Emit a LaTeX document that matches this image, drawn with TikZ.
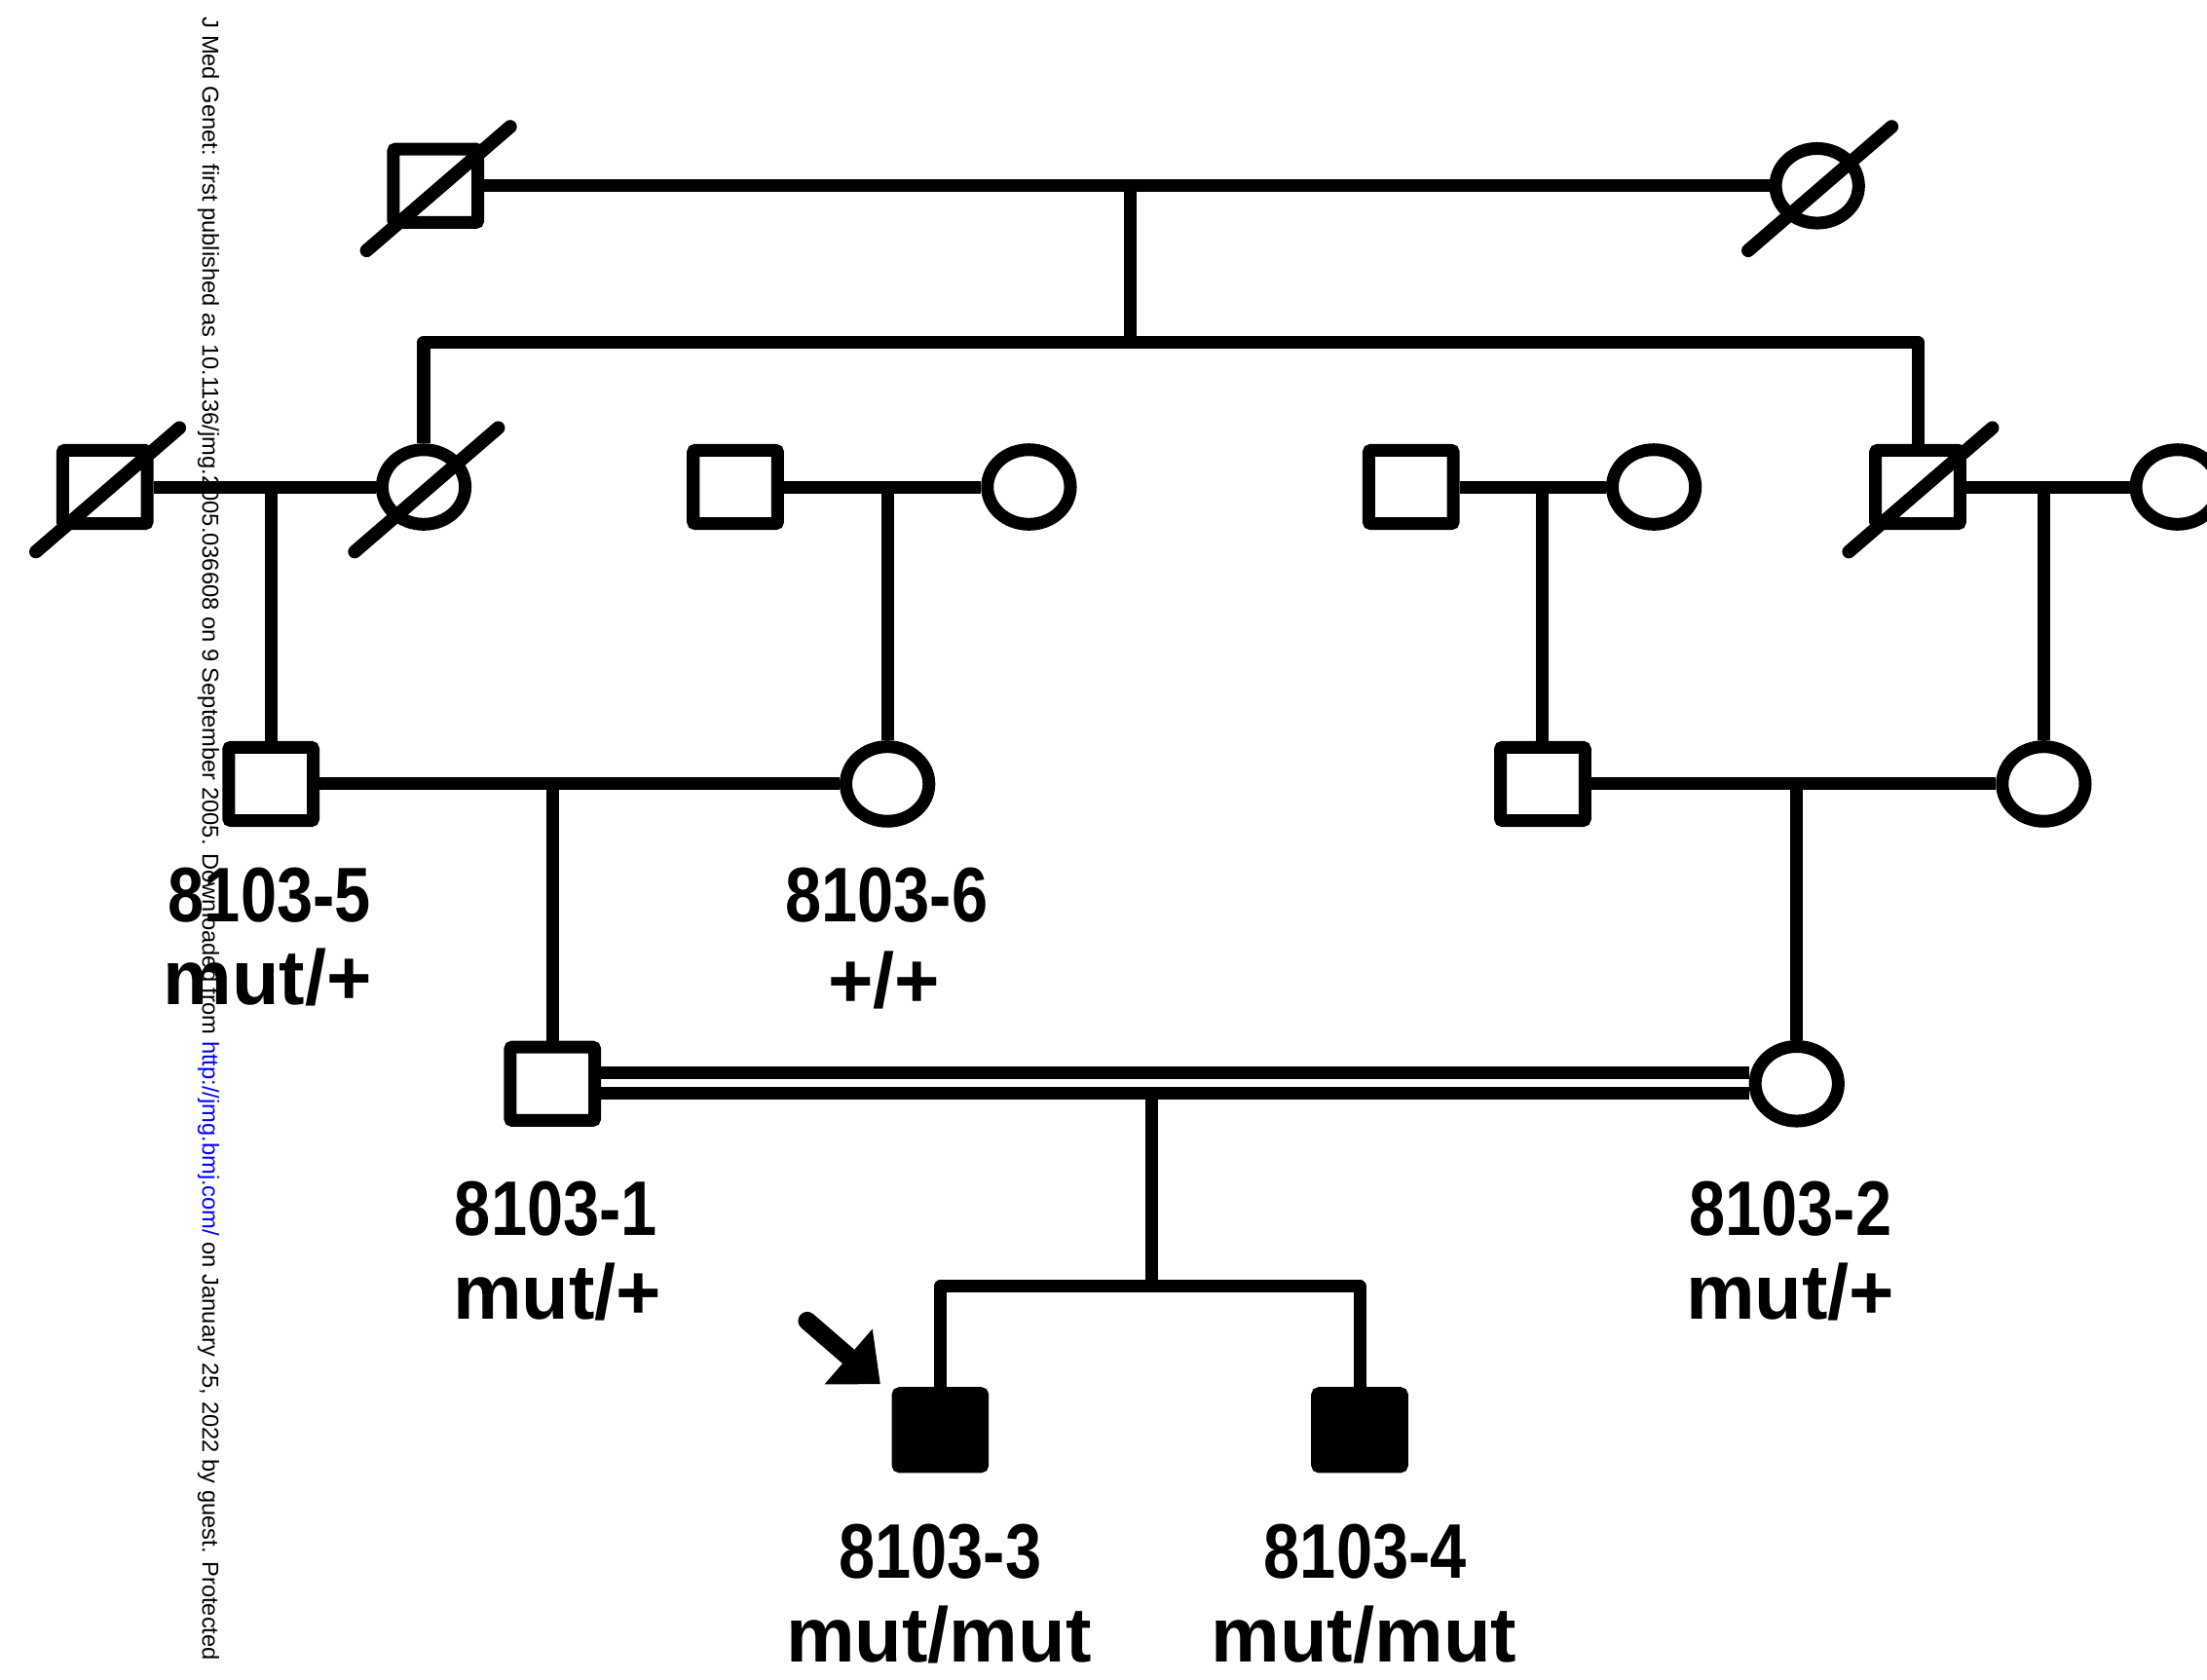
\documentclass[tikz,border=0pt]{standalone}
\usepackage{fontspec}
\usepackage{graphicx}
\setmainfont{Liberation Sans}
\usetikzlibrary{shapes.geometric,arrows.meta}
\begin{document}
\begin{tikzpicture}[x=1pt,y=-1pt,
  line/.style={line width=9pt, line join=round},
  male/.style={draw, line width=9pt, rectangle, rounded corners=1.5pt, minimum width=60pt, minimum height=52pt, inner sep=0pt},
  female/.style={draw, line width=9pt, ellipse, minimum width=59pt, minimum height=53pt, inner sep=0pt},
  affected/.style={fill=black},
  slash/.style={line width=9.5pt, line cap=round},
  lab/.style={font=\fontsize{55pt}{60pt}\selectfont\bfseries, inner sep=0pt, anchor=base},
  wm/.style={font=\fontsize{16.4pt}{18pt}\selectfont, inner sep=0pt, rotate=-90, anchor=west},
  proband/.style={line width=13pt, line cap=round, -{Triangle[length=30pt,width=50pt]}}
]
\clip (0,0) rectangle (1568,1193);

% watermark
\node[wm] (wmark) at (148,12) {J Med Genet: first published as 10.1136/jmg.2005.036608 on 9 September 2005. Downloaded from \textcolor{blue}{http://jmg.bmj.com/} on January 25, 2022 by guest. Protected};

% Generation I
\node[male] (g1m) at (309.5,132) {};
\node[female] (g1f) at (1291,132) {};
% Generation II
\node[male] (ii1) at (74.5,346) {};
\node[female] (ii2) at (301,346) {};
\node[male] (ii3) at (522.5,346) {};
\node[female] (ii4) at (731,346) {};
\node[male] (ii6) at (1002.5,346) {};
\node[female] (ii7) at (1175,346) {};
\node[male] (ii5) at (1362.5,346) {};
\node[female] (ii8) at (1547,346) {};
% Generation III
\node[male] (iii1) at (192.5,557) {};
\node[female] (iii2) at (630.5,557) {};
\node[male] (iii3) at (1096,557) {};
\node[female] (iii4) at (1452,557) {};
% Generation IV
\node[male] (iv1) at (392.5,770) {};
\node[female] (iv2) at (1276.5,770) {};
% Generation V
\node[male,affected] (v1) at (668,1016) {};
\node[male,affected] (v2) at (966,1016) {};

% deceased slashes
\foreach \n in {g1m,g1f,ii1,ii2,ii5}{
  \draw[slash] ([shift={(-49,46)}]\n.center) -- ([shift={(53,-42)}]\n.center);
}

% Generation I connections
\coordinate (g1c) at (803,132);
\coordinate (g1s) at (803,243);
\draw[line] (g1m) -- (g1f);
\draw[line] (g1c) -- (g1s);
\draw[line] (ii2.north) |- (g1s) -| (ii5.north);

% Generation II connections
\draw[line] (ii1) -- (ii2);
\draw[line] (iii1.north) -- (iii1.north |- ii1);
\draw[line] (ii3) -- (ii4);
\draw[line] (iii2.north) -- (iii2.north |- ii3);
\draw[line] (ii6) -- (ii7);
\draw[line] (iii3.north) -- (iii3.north |- ii6);
\draw[line] (ii5) -- (ii8);
\draw[line] (iii4.north) -- (iii4.north |- ii5);

% Generation III connections
\draw[line] (iii1) -- (iii2);
\draw[line] (iv1.north) -- (iv1.north |- iii1);
\draw[line] (iii3) -- (iii4);
\draw[line] (iv2.north) -- (iv2.north |- iii3);

% consanguineous marriage
\draw[line] ([yshift=8pt]iv1.east) -- ([yshift=8pt]iv2.west);
\draw[line] ([yshift=-7pt]iv1.east) -- ([yshift=-7pt]iv2.west);
\coordinate (c4) at (818.5,777);
\coordinate (c4s) at (818.5,914);
\draw[line] (c4) -- (c4s);
\draw[line] (v1.north) |- (c4s) -| (v2.north);

% proband arrow
\draw[proband] ([shift={(-60,-47)}]v1.north west) -- ([shift={(-8,-2)}]v1.north west);

% labels
\node[lab] (l5a) at (191.5,655) {\scalebox{0.84}[1]{8103-5}};
\node[lab] (l5b) at (190,714) {mut/+};
\node[lab] (l6a) at (630,655) {\scalebox{0.84}[1]{8103-6}};
\node[lab] (l6b) at (628,716) {+/+};
\node[lab] (l1a) at (395,878) {\scalebox{0.84}[1]{8103-1}};
\node[lab] (l1b) at (396,937) {mut/+};
\node[lab] (l2a) at (1272,878) {\scalebox{0.84}[1]{8103-2}};
\node[lab] (l2b) at (1272,937) {mut/+};
\node[lab] (l3a) at (668,1121) {\scalebox{0.84}[1]{8103-3}};
\node[lab] (l3b) at (667,1181) {mut/mut};
\node[lab] (l4a) at (970,1121) {\scalebox{0.84}[1]{8103-4}};
\node[lab] (l4b) at (969,1181) {mut/mut};
\end{tikzpicture}
\end{document}
